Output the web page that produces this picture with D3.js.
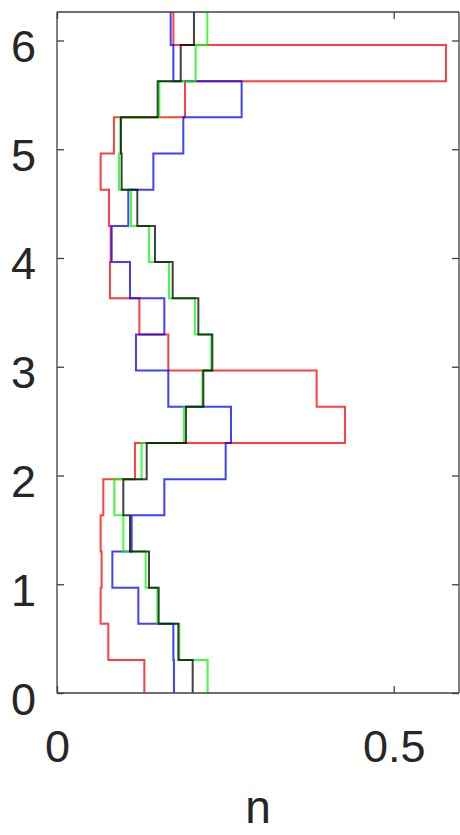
<!DOCTYPE html>
<html>
<head>
<meta charset="utf-8">
<script src="https://cdn.jsdelivr.net/npm/d3@7"></script>
<style>
  html, body { margin: 0; padding: 0; background: #fff; }
  svg { display: block; }
</style>
</head>
<body>
<script>
// ---- data ----
const binEdges = [0, 0.303, 0.636, 0.968, 1.301, 1.634, 1.966, 2.299, 2.632, 2.965, 3.297,
                  3.630, 3.963, 4.295, 4.628, 4.961, 5.294, 5.626, 5.959, 6.262];
const redValues   = [0.1297, 0.0762, 0.0648, 0.0663, 0.0648, 0.0688, 0.1158, 0.4277, 0.3856, 0.1653,
                     0.1223, 0.0787, 0.0797, 0.0772, 0.0648, 0.0846, 0.1901, 0.5777, 0.1728];
const blueValues  = [0.1737, 0.1728, 0.1208, 0.0822, 0.1109, 0.1594, 0.2505, 0.2584, 0.1653, 0.1173,
                     0.1594, 0.1084, 0.0812, 0.1059, 0.1431, 0.1876, 0.2742, 0.1728, 0.1688];
const greenValues = [0.2237, 0.1817, 0.1490, 0.1317, 0.0985, 0.0851, 0.1257, 0.1886, 0.2160, 0.2290,
                     0.2049, 0.1663, 0.1366, 0.1099, 0.0921, 0.0940, 0.1520, 0.2059, 0.2232];
const blackValues = [0.2015, 0.1802, 0.1510, 0.1366, 0.1084, 0.0985, 0.1332, 0.1916, 0.2173, 0.2307,
                     0.2099, 0.1718, 0.1455, 0.1193, 0.0960, 0.0950, 0.1495, 0.1837, 0.2034];
const xTicks = [0, 0.5];
const xTickLabels = ["0", "0.5"];
const yTicks = [0, 1, 2, 3, 4, 5, 6];
const yTickLabels = ["0", "1", "2", "3", "4", "5", "6"];
const xLabel = "n";
const xDomain = [0, 0.597];
const yDomain = [0, 6.262];

const series = [
  { name: "red",   values: redValues,   color: "#ff0000" },
  { name: "blue",  values: blueValues,  color: "#0000ff" },
  { name: "green", values: greenValues, color: "#00ff00" },
  { name: "black", values: blackValues, color: "#000000" }
];

// ---- layout ----
const W = 460, H = 835;
const mLeft = 57, mRight = 459, mTop = 12, mBottom = 693;
const axisColor = "#404040";
const textColor = "#262626";
const font = "'Liberation Sans', Arial, Helvetica, sans-serif";

const svg = d3.select("body").append("svg").attr("width", W).attr("height", H);

const x = d3.scaleLinear().domain(xDomain).range([mLeft, mRight]);
const y = d3.scaleLinear().domain(yDomain).range([mBottom, mTop]);

// stairs
const line = d3.line().x(d => x(d[0])).y(d => y(d[1]));
const gLines = svg.append("g");
series.forEach(s => {
  const pts = [];
  s.values.forEach((v, i) => {
    pts.push([v, binEdges[i]]);
    pts.push([v, binEdges[i + 1]]);
  });
  gLines.append("path")
    .attr("d", line(pts))
    .attr("fill", "none")
    .attr("stroke", s.color)
    .attr("stroke-width", 2)
    .attr("stroke-opacity", 0.75)
    .attr("stroke-linejoin", "miter");
});

// axes (box with inward ticks on all sides)
const tickLen = 7;
const axG = svg.append("g");

const bottomAxis = d3.axisBottom(x).tickValues(xTicks).tickSize(-tickLen).tickFormat((d, i) => xTickLabels[i]).tickPadding(0);
const topAxis = d3.axisTop(x).tickValues(xTicks).tickSize(-tickLen).tickFormat("");
const leftAxis = d3.axisLeft(y).tickValues(yTicks).tickSize(-tickLen).tickFormat((d, i) => yTickLabels[i]).tickPadding(0);
const rightAxis = d3.axisRight(y).tickValues(yTicks).tickSize(-tickLen).tickFormat("");

const gb = axG.append("g").attr("transform", `translate(0,${mBottom})`).call(bottomAxis);
const gt = axG.append("g").attr("transform", `translate(0,${mTop})`).call(topAxis);
const gl = axG.append("g").attr("transform", `translate(${mLeft},0)`).call(leftAxis);
const gr = axG.append("g").attr("transform", `translate(${mRight},0)`).call(rightAxis);

[gb, gt, gl, gr].forEach(g => {
  g.selectAll(".domain").attr("stroke", axisColor).attr("stroke-width", 1.3);
  g.selectAll(".tick line").attr("stroke", axisColor).attr("stroke-width", 1.3);
});
gb.select(".domain").attr("d", `M${mLeft},0H${mRight}`);
gt.select(".domain").attr("d", `M${mLeft},0H${mRight}`);
gl.select(".domain").attr("d", `M0,${mTop}V${mBottom}`);
gr.select(".domain").attr("d", `M0,${mTop}V${mBottom}`);

gb.selectAll(".tick text")
  .attr("y", 69).attr("dy", null)
  .attr("fill", textColor).attr("font-size", 45).attr("font-family", font);
gl.selectAll(".tick text")
  .attr("x", -21).attr("dy", null).attr("y", 21)
  .attr("fill", textColor).attr("font-size", 45).attr("font-family", font);
[gb, gl].forEach(g => g.attr("font-family", font));

svg.append("text")
  .attr("x", (mLeft + mRight) / 2)
  .attr("y", 823)
  .attr("text-anchor", "middle")
  .attr("font-size", 46)
  .attr("font-family", font)
  .attr("fill", textColor)
  .text(xLabel);
</script>
</body>
</html>
